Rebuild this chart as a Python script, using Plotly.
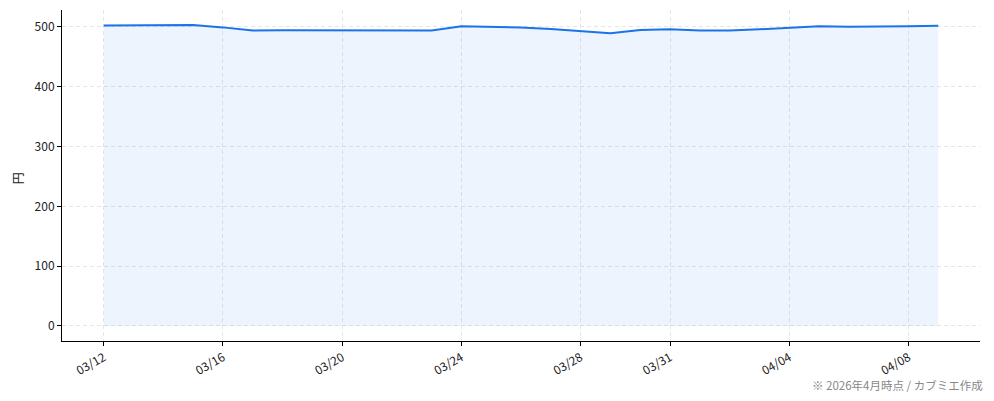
import plotly.graph_objects as go
import pandas as pd

dates = pd.date_range("2026-03-12", "2026-04-09", freq="D").strftime("%Y-%m-%d").tolist()
prices = [502.5, 502.7, 502.9, 503.2, 499.3, 494.2, 494.5, 494.2, 494.0, 493.8,
          493.5, 494.0, 501.0, 500.3, 499.0, 496.5, 493.5, 489.5, 495.0, 496.0,
          494.0, 494.0, 496.0, 498.0, 501.0, 500.5, 500.5, 501.2, 502.0]

tick_dates = ["2026-03-12", "2026-03-16", "2026-03-20", "2026-03-24",
              "2026-03-28", "2026-03-31", "2026-04-04", "2026-04-08"]
tick_labels = ["03/12", "03/16", "03/20", "03/24", "03/28", "03/31", "04/04", "04/08"]
y_ticks = [0, 100, 200, 300, 400, 500]

y_label = "円"
footnote = "※ 2026年4月時点 / カブミエ作成"

FONT = "Noto Sans CJK JP"

fig = go.Figure()
fig.add_trace(go.Scatter(
    x=dates, y=prices, mode="lines",
    line=dict(color="#1a73e8", width=2),
    fill="tozeroy", fillcolor="rgba(26,115,232,0.08)",
    hoverinfo="x+y", showlegend=False,
))

t0 = pd.Timestamp(dates[0])
t1 = pd.Timestamp(dates[-1])
pad = (t1 - t0) * 0.05
ymax = max(prices)
ypad = ymax * 0.05

grid = dict(showgrid=True, gridcolor="#e6e6e6", griddash="4px,3px", gridwidth=0.8)

fig.update_layout(
    width=994, height=401,
    margin=dict(l=62, r=14, t=10, b=60),
    paper_bgcolor="white", plot_bgcolor="white",
    font=dict(family=FONT, size=12, color="#222222"),
    xaxis=dict(
        range=[t0 - pad, t1 + pad],
        tickvals=tick_dates, ticktext=tick_labels, tickangle=-30,
        showline=True, linecolor="black", linewidth=1,
        ticks="outside", ticklen=4, tickcolor="black",
        zeroline=False, automargin=False,
        tickfont=dict(size=12, color="#222222"), **grid,
    ),
    yaxis=dict(
        range=[-ypad, ymax + ypad],
        tickvals=y_ticks,
        showline=True, linecolor="black", linewidth=1,
        ticks="outside", ticklen=4, tickcolor="black",
        zeroline=False, automargin=False,
        tickfont=dict(size=12, color="#222222"), **grid,
    ),
    annotations=[
        dict(text=y_label, xref="paper", yref="paper", x=-0.049, y=0.492,
             textangle=-90, showarrow=False, xanchor="center", yanchor="middle",
             font=dict(family=FONT, size=12, color="#222222")),
        dict(text=footnote, xref="paper", yref="paper", x=1.0054, y=-0.133,
             showarrow=False, xanchor="right", yanchor="middle",
             font=dict(family=FONT, size=11.5, color="#888888")),
    ],
)

fig.write_html("out.html", config={"displayModeBar": False},
               post_script="document.body.style.margin='0';")
